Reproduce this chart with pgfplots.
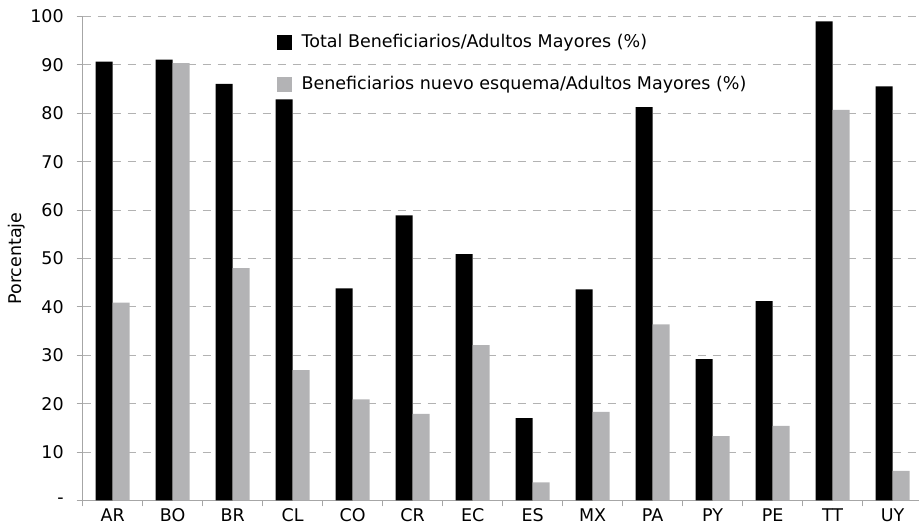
\documentclass[border=0pt]{standalone}
\usepackage{pgfplots}
\pgfplotsset{compat=1.18}
\usepackage{fontspec}
\setmainfont{DejaVu Sans}
\definecolor{barg}{RGB}{179,179,181}
\definecolor{gridc}{RGB}{178,178,178}
\definecolor{axc}{RGB}{166,166,166}
\begin{document}
\fontsize{17.5}{21}\selectfont
\begin{tikzpicture}
\path[use as bounding box] (0,0) rectangle (919pt,526pt);
\begin{axis}[
  at={(82.7pt,25.6pt)}, anchor=south west,
  scale only axis, width=836.3pt, height=483.8pt,
  xmin=-0.5, xmax=13.44, ymin=0, ymax=100,
  axis x line=bottom, axis y line=left,
  axis line style={axc, line width=1pt, -},
  tick align=outside,
  ybar=0pt, bar width=17pt,
  xtick={0,...,13},
  xticklabels={AR,BO,BR,CL,CO,CR,EC,ES,MX,PA,PY,PE,TT,UY},
  major x tick style={draw=none},
  minor xtick={-0.5,0.5,...,12.5},
  minor x tick style={axc, line width=1pt},
  minor tick length=6pt,
  ytick={0,10,...,100},
  yticklabels={-,10,20,30,40,50,60,70,80,90,100},
  major y tick style={axc, line width=1pt},
  major tick length=6pt,
  ymajorgrids,
  grid style={gridc, line width=1pt, dash pattern=on 8pt off 7pt},
  /pgf/number format/assume math mode=true,
  xticklabel style={yshift=4pt},
  yticklabel style={xshift=-7pt},
  ylabel={Porcentaje},
  ylabel style={at={(axis description cs:-0.0786,0.5)}, anchor=center},
  legend style={at={(axis description cs:0.2316,0.968)}, anchor=north west,
    draw=none, fill=none, inner sep=0pt, row sep=22pt,
    /tikz/every odd column/.append style={column sep=8pt}},
  legend cell align=left,
  legend image code/.code={\draw[#1,draw=none] (0pt,-7.5pt) rectangle (15pt,7.5pt);},
  clip=false,
]
\addplot[fill=black, draw=none] coordinates {
 (0,90.7) (1,91.1) (2,86.1) (3,82.9) (4,43.8) (5,58.9) (6,50.9)
 (7,17.0) (8,43.6) (9,81.3) (10,29.2) (11,41.2) (12,99.0) (13,85.6)};
\addplot[fill=barg, draw=none] coordinates {
 (0,40.9) (1,90.4) (2,48.0) (3,26.9) (4,20.9) (5,17.9) (6,32.1)
 (7,3.7) (8,18.3) (9,36.4) (10,13.3) (11,15.4) (12,80.7) (13,6.1)};
\legend{Total Beneficiarios/Adultos Mayores (\%), Beneficiarios nuevo esquema/Adultos Mayores (\%)}
\end{axis}
\end{tikzpicture}
\end{document}
